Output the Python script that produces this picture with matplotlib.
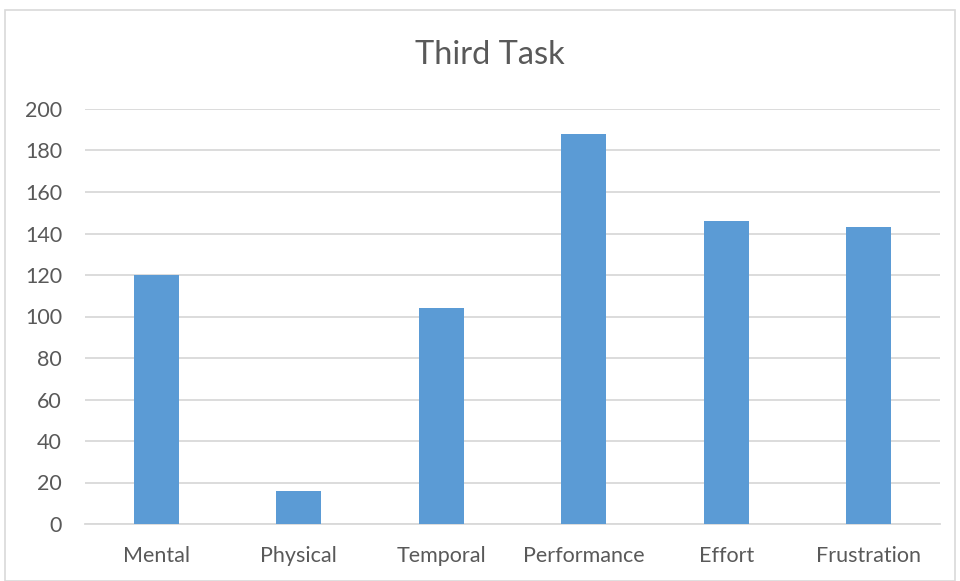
import matplotlib
matplotlib.use("Agg")
import matplotlib.pyplot as plt
from matplotlib.patches import Rectangle

categories = ["Mental", "Physical", "Temporal", "Performance", "Effort", "Frustration"]
values = [120, 16, 104, 188, 146, 143]
yticks = [0, 20, 40, 60, 80, 100, 120, 140, 160, 180, 200]

text_color = "#595959"
bar_color = "#5B9BD5"
grid_color = "#D9D9D9"

plt.rcParams["font.family"] = ["Lato", "DejaVu Sans"]

fig = plt.figure(figsize=(9.6, 5.81), dpi=100)
ax = fig.add_axes([85 / 960, 1 - 524 / 581, 855 / 960, 415 / 581])

x = range(len(categories))
ax.bar(x, values, width=0.315, color=bar_color, zorder=3)

ax.set_xlim(-0.5, len(categories) - 0.5)
ax.set_ylim(0, 200)
ax.set_yticks(yticks)
ax.set_xticks(list(x))
ax.set_xticklabels(categories)
ax.yaxis.grid(True, color=grid_color, linewidth=1.3, zorder=0)
ax.set_axisbelow(True)
for side in ["left", "right", "top"]:
    ax.spines[side].set_visible(False)
ax.spines["bottom"].set_color(grid_color)
ax.spines["bottom"].set_linewidth(1.3)
ax.tick_params(axis="both", length=0, labelsize=15.5, colors=text_color)
ax.tick_params(axis="x", pad=16)
ax.tick_params(axis="y", pad=16.5)

fig.text(490 / 960, 1 - 55 / 581, "Third Task", ha="center", va="center",
         fontsize=23.5, color=text_color)

# light frame around the chart area
fig.patches.append(Rectangle((5 / 960, 0.0), 950 / 960, 1 - 10 / 581,
                             transform=fig.transFigure, fill=False,
                             edgecolor=grid_color, linewidth=1.2))

fig.savefig("out.png", dpi=100, facecolor="white")
